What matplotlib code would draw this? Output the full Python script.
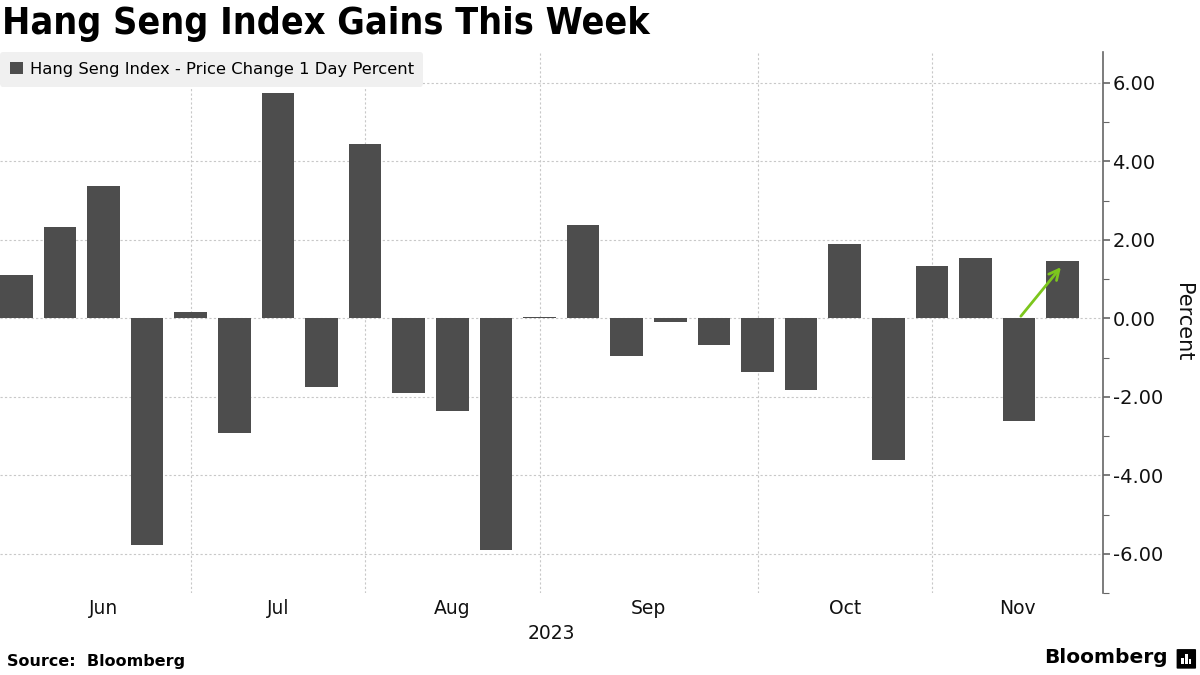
import matplotlib
matplotlib.use("Agg")
import matplotlib.pyplot as plt
import matplotlib.patches as mpatches
import pandas as pd

# weekly % change of the Hang Seng Index (Friday closes)
week_dates = pd.date_range("2023-06-02", "2023-11-17", freq="W-FRI")
pct_change = [1.10, 2.33, 3.38, -5.77, 0.15, -2.92, 5.74, -1.74, 4.44,
              -1.90, -2.36, -5.90, 0.03, 2.38, -0.97, -0.10, -0.69, -1.36,
              -1.82, 1.90, -3.62, 1.33, 1.54, -2.62, 1.46]
y_ticks = [-6, -4, -2, 0, 2, 4, 6]

BAR = "#4d4d4d"
GRID = "#c8c8c8"
AXIS = "#666666"

plt.rcParams["font.family"] = ["DejaVu Sans"]

fig = plt.figure(figsize=(12, 6.75), dpi=100)
ax = fig.add_axes([0, 0.1215, 0.919, 0.8015])

x = list(range(len(pct_change)))
ax.bar(x, pct_change, width=0.75, color=BAR, zorder=2,
       label="Hang Seng Index - Price Change 1 Day Percent")

ax.set_xlim(-0.375, 24.92)
ax.set_ylim(-6.97, 6.79)

# month boundaries: the last weekly bar of each month
months = week_dates.month
bounds = [i for i in range(len(months) - 1) if months[i] != months[i + 1]]
for b in bounds:
    ax.axvline(b, color=GRID, lw=0.8, ls=(0, (2, 2)), zorder=0)

# month labels centred between boundaries
edges = [0] + bounds + [ax.get_xlim()[1]]
names = [week_dates[0].strftime("%b")] + [week_dates[b + 1].strftime("%b") for b in bounds]
for left, right, name in zip(edges[:-1], edges[1:], names):
    ax.text((left + right) / 2, -0.012, name, transform=ax.get_xaxis_transform(),
            ha="center", va="top", fontsize=13.5, color="#111111")
ax.text(0.5, -0.058, "2023", transform=ax.transAxes, ha="center", va="top",
        fontsize=13.5, color="#111111")
ax.set_xticks([])

# y axis on the right
ax.yaxis.tick_right()
ax.set_yticks(y_ticks)
ax.set_yticklabels([f"{v:.2f}" for v in y_ticks])
ax.set_yticks(range(-7, 7), minor=True)
ax.tick_params(axis="y", which="major", length=5, width=1.2, color=AXIS,
               labelsize=14, pad=2, labelcolor="#111111")
ax.tick_params(axis="y", which="minor", length=4, width=0.8, color=AXIS)
for v in y_ticks:
    ax.axhline(v, color=GRID, lw=0.8, ls=(0, (2, 2)), zorder=0)

ax.yaxis.set_label_position("right")
ax.set_ylabel("Percent", rotation=270, fontsize=15, labelpad=22, color="#111111")

for side in ["top", "left", "bottom"]:
    ax.spines[side].set_visible(False)
ax.spines["right"].set_color(AXIS)
ax.spines["right"].set_linewidth(1.2)

# arrow from last week's bar to this week's bar
ax.annotate("", xy=(x[-1], pct_change[-1] - 0.1), xytext=(x[-2], 0),
            arrowprops=dict(arrowstyle="->", color="#7cc61d", lw=2,
                            mutation_scale=18), zorder=3)

leg = ax.legend(loc="upper left", bbox_to_anchor=(0, 1), borderaxespad=0,
                frameon=True, fontsize=11.8, handlelength=0.8, handleheight=0.8,
                handletextpad=0.4, borderpad=0.6, fancybox=True)
leg.get_frame().set_facecolor("#f0f0f0")
leg.get_frame().set_edgecolor("none")
leg.get_frame().set_alpha(1)

fig.text(0.002, 0.965, "Hang Seng Index Gains This Week", fontsize=27,
         fontweight="bold", fontstretch="condensed", va="center", ha="left")
fig.text(0.006, 0.009, "Source:  Bloomberg", fontsize=11.5, fontweight="bold",
         va="bottom", ha="left")
fig.text(0.973, 0.012, "Bloomberg", fontsize=14.5, fontweight="bold",
         va="bottom", ha="right")

# small logo square
lx, ly, lw, lh = 0.9815, 0.0104, 0.0142, 0.027
logo = mpatches.FancyBboxPatch((lx, ly), lw, lh, boxstyle="round,pad=0.001",
                               transform=fig.transFigure,
                               facecolor="black", edgecolor="none")
fig.patches.append(logo)
for dx, h in [(0.004, 0.009), (0.0071, 0.014), (0.0102, 0.007)]:
    fig.patches.append(mpatches.Rectangle((lx + dx - 0.001, ly + 0.006), 0.002, h,
                                          transform=fig.transFigure,
                                          facecolor="white", edgecolor="none"))

fig.savefig("out.png", dpi=100)
